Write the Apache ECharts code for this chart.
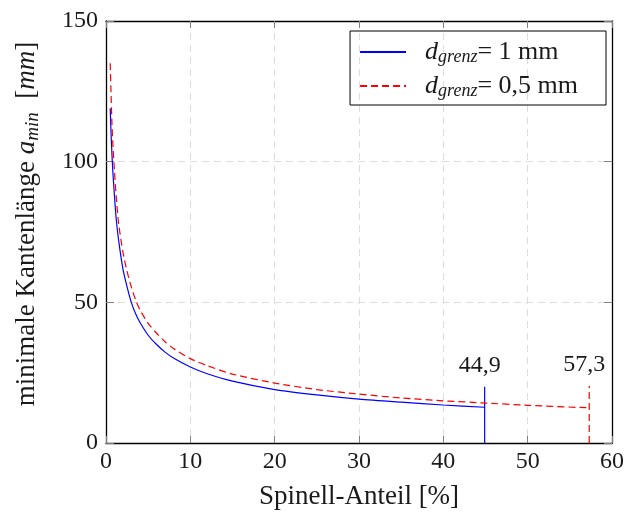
<!DOCTYPE html>
<html>
<head>
<meta charset="utf-8">
<script src="https://cdn.jsdelivr.net/npm/echarts@6/dist/echarts.min.js"></script>
<style>html,body{margin:0;padding:0;background:#fff}#c{width:627px;height:515px}</style>
</head>
<body>
<div id="c"></div>
<script>
// Data
var blueX = [0.5, 0.6, 0.7, 0.8, 1, 1.2, 1.5, 2, 2.5, 3, 3.5, 4, 5, 6, 7, 8, 10, 12, 15, 20, 25, 30, 35, 40, 44.9];
var blueY = [119, 110, 103, 97, 88, 80, 72, 62, 55.5, 50, 46, 43, 38.3, 35, 32.3, 30.2, 27, 24.6, 22, 19, 17.1, 15.6, 14.5, 13.5, 12.7];
var redX = [0.5, 0.6, 0.7, 0.8, 1, 1.2, 1.5, 2, 2.5, 3, 3.5, 4, 5, 6, 7, 8, 10, 12, 15, 20, 25, 30, 35, 40, 45, 50, 57.3];
var redY = [135, 124, 114, 107, 97, 88, 78, 68, 61, 55.5, 51, 47.5, 42.5, 39, 36, 33.6, 30, 27.5, 24.5, 21.3, 19, 17.4, 16, 15, 14.2, 13.4, 12.5];
var cutoffX = [44.9, 57.3];
var cutoffTop = [20, 20.3];
var cutoffLabels = ['44,9', '57,3'];
var xTicks = [0, 10, 20, 30, 40, 50, 60];
var yTicks = [0, 50, 100, 150];
var legendNames = ['1 mm', '0,5 mm'];

function zip(a, b) { return a.map(function (v, i) { return [v, b[i]]; }); }

var FONT = 'Liberation Serif';
var TXT = '#1a1a1a';
var blue = '#0000ff', red = '#ff0000';
var gridLine = { show: true, lineStyle: { color: '#dddddd', type: [7, 5], width: 1 } };

var chart = echarts.init(document.getElementById('c'), null, { renderer: 'canvas' });

function cutoffSeries(i, color, dashed) {
  return {
    type: 'line', name: 'cut' + i, xAxisIndex: 0, yAxisIndex: 0,
    data: [
      { value: [cutoffX[i], 0], label: { show: false } },
      { value: [cutoffX[i], cutoffTop[i]], label: {
        show: true, position: 'top', distance: 9, offset: [-5, 0], formatter: cutoffLabels[i],
        fontFamily: FONT, fontSize: 24, color: TXT } }
    ],
    showSymbol: true, symbol: 'circle', symbolSize: 1,
    itemStyle: { color: 'rgba(0,0,0,0)' },
    lineStyle: { color: color, width: 1.2, type: dashed ? [7, 4] : 'solid' },
    silent: true, z: 3
  };
}

var option = {
  animation: false,
  backgroundColor: '#fff',
  grid: { left: 106, right: 12, top: 21, bottom: 71, containLabel: false },
  legend: {
    right: 21, top: 31, orient: 'vertical', align: 'left',
    data: ['s0', 's1'],
    borderColor: '#000', borderWidth: 1, padding: [7, 28, 5, 9],
    itemWidth: 46, itemHeight: 14, itemGap: 6,
    itemStyle: { opacity: 0 },
    lineStyle: { opacity: 1 },
    formatter: function (name) {
      var i = name === 's0' ? 0 : 1;
      return '{it|d}{sub|grenz}{t|= ' + legendNames[i] + '}';
    },
    textStyle: {
      fontFamily: FONT, fontSize: 26, color: TXT, padding: [0, 0, 0, 14],
      rich: {
        it: { fontFamily: FONT, fontStyle: 'italic', fontSize: 26, color: TXT, lineHeight: 30 },
        sub: { fontFamily: FONT, fontStyle: 'italic', fontSize: 18, color: TXT, padding: [10, 0, 0, 0], lineHeight: 30 },
        t: { fontFamily: FONT, fontSize: 26, color: TXT, lineHeight: 30 }
      }
    }
  },
  xAxis: [{
    type: 'value', min: 0, max: 60, interval: 10, position: 'bottom',
    name: 'Spinell-Anteil [%]', nameLocation: 'middle', nameGap: 40,
    nameTextStyle: { fontFamily: FONT, fontSize: 27, color: TXT },
    axisLine: { show: true, onZero: false, lineStyle: { color: '#000', width: 1.3 } },
    axisTick: { show: true, inside: true, length: 7, lineStyle: { color: '#808080' } },
    axisLabel: { fontFamily: FONT, fontSize: 24, color: TXT, margin: 7,
      formatter: function (v) { return xTicks.indexOf(v) >= 0 ? String(v) : ''; } },
    splitLine: gridLine
  }, {
    type: 'value', min: 0, max: 60, interval: 10, position: 'top',
    axisLine: { show: true, onZero: false, lineStyle: { color: '#000', width: 1.3 } },
    axisTick: { show: true, inside: true, length: 7, lineStyle: { color: '#808080' } },
    axisLabel: { show: false }, splitLine: { show: false }
  }],
  yAxis: [{
    type: 'value', min: 0, max: 150, interval: 50, position: 'left',
    name: 'minimale Kantenlänge {it|a}{sub|min}  [{it|mm}]', nameLocation: 'middle', nameGap: 64, nameRotate: 90,
    nameTextStyle: { fontFamily: FONT, fontSize: 27, color: TXT, padding: [0, 0, 0, 16],
      rich: {
        it: { fontFamily: FONT, fontStyle: 'italic', fontSize: 27, color: TXT },
        sub: { fontFamily: FONT, fontStyle: 'italic', fontSize: 19, color: TXT, padding: [11, 0, 0, 0] }
      } },
    axisLine: { show: true, onZero: false, lineStyle: { color: '#000', width: 1.3 } },
    axisTick: { show: true, inside: true, length: 8, lineStyle: { color: '#808080' } },
    axisLabel: { fontFamily: FONT, fontSize: 24, color: TXT, margin: 8,
      formatter: function (v) { return yTicks.indexOf(v) >= 0 ? String(v) : ''; } },
    splitLine: gridLine
  }, {
    type: 'value', min: 0, max: 150, interval: 50, position: 'right',
    axisLine: { show: true, onZero: false, lineStyle: { color: '#000', width: 1.3 } },
    axisTick: { show: true, inside: true, length: 8, lineStyle: { color: '#808080' } },
    axisLabel: { show: false }, splitLine: { show: false }
  }],
  series: [{
    type: 'line', name: 's0', xAxisIndex: 0, yAxisIndex: 0,
    data: zip(blueX, blueY), smooth: 0.25, showSymbol: false, symbol: 'none',
    lineStyle: { color: blue, width: 1.2 }, itemStyle: { color: blue }, z: 4
  }, {
    type: 'line', name: 's1', xAxisIndex: 0, yAxisIndex: 0,
    data: zip(redX, redY), smooth: 0.25, showSymbol: false, symbol: 'none',
    lineStyle: { color: red, width: 1.2, type: [7, 4] }, itemStyle: { color: red }, z: 4
  }, cutoffSeries(0, blue, false), cutoffSeries(1, red, true)]
};
chart.setOption(option);
</script>
</body>
</html>
